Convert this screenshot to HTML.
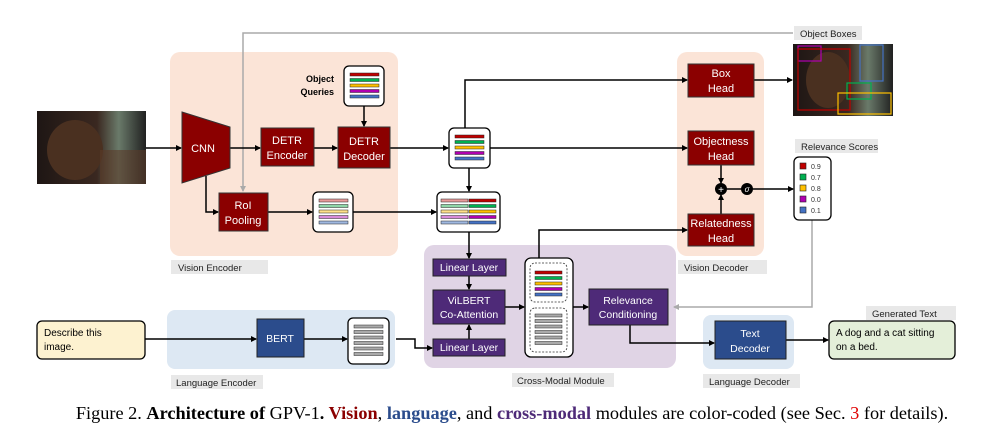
<!DOCTYPE html>
<html><head><meta charset="utf-8"><style>
body{margin:0;background:#fff;width:989px;height:443px;overflow:hidden}
svg text{font-family:"Liberation Sans",sans-serif}
</style></head><body>
<svg width="989" height="443" viewBox="0 0 989 443" xmlns="http://www.w3.org/2000/svg">
<defs>
<marker id="a" markerWidth="6" markerHeight="6" refX="5" refY="3" orient="auto" markerUnits="userSpaceOnUse"><path d="M0,0 L6,3 L0,6z" fill="#000"/></marker>
<marker id="g" markerWidth="6" markerHeight="6" refX="5" refY="3" orient="auto" markerUnits="userSpaceOnUse"><path d="M0,0 L6,3 L0,6z" fill="#aaa"/></marker>
<linearGradient id="ph" x1="0" y1="0" x2="1" y2="0"><stop offset="0" stop-color="#1e1614"/><stop offset="0.55" stop-color="#3a2820"/><stop offset="0.75" stop-color="#6a7a6a"/><stop offset="1" stop-color="#202020"/></linearGradient>
</defs>
<rect x="170" y="52" width="228" height="204" rx="10" fill="#fbe4d7"/>
<rect x="677" y="52" width="87" height="204" rx="10" fill="#fbe4d7"/>
<rect x="424" y="245" width="252" height="123" rx="10" fill="#e0d4e5"/>
<rect x="167" y="310" width="228" height="59" rx="8" fill="#dde8f3"/>
<rect x="703" y="315" width="91" height="54" rx="8" fill="#dde8f3"/>
<g font-size="9.5" fill="#222">
<rect x="171" y="260" width="97" height="14" fill="#e8e8e8"/><text x="178" y="271">Vision Encoder</text>
<rect x="678" y="260" width="89" height="14" fill="#e8e8e8"/><text x="684" y="271">Vision Decoder</text>
<rect x="512" y="373" width="102" height="14" fill="#e8e8e8"/><text x="517" y="384">Cross-Modal Module</text>
<rect x="171" y="375" width="92" height="14" fill="#e8e8e8"/><text x="176" y="386">Language Encoder</text>
<rect x="703" y="374" width="97" height="14" fill="#e8e8e8"/><text x="709" y="385">Language Decoder</text>
<rect x="794" y="26" width="68" height="14" fill="#e8e8e8"/><text x="800" y="37">Object Boxes</text>
<rect x="795" y="139" width="83" height="14" fill="#e8e8e8"/><text x="801" y="150">Relevance Scores</text>
<rect x="866" y="306" width="90" height="14" fill="#e8e8e8"/><text x="872" y="317">Generated Text</text>
</g>
<rect x="37" y="111" width="109" height="73" fill="url(#ph)"/>
<ellipse cx="75" cy="150" rx="28" ry="30" fill="#4a3020"/>
<rect x="100" y="150" width="46" height="34" fill="#5a3a28" opacity="0.6"/>
<rect x="793" y="44" width="100" height="72" fill="url(#ph)"/>
<ellipse cx="828" cy="80" rx="22" ry="28" fill="#4a3020"/>
<rect x="798" y="46" width="23" height="15" fill="none" stroke="#b000b0" stroke-width="1.2"/>
<rect x="798" y="49" width="52" height="61" fill="none" stroke="#c00000" stroke-width="1.2"/>
<rect x="860" y="45" width="23" height="36" fill="none" stroke="#4472c4" stroke-width="1.2"/>
<rect x="847" y="83" width="24" height="16" fill="none" stroke="#00b050" stroke-width="1.2"/>
<rect x="838" y="93" width="53" height="21" fill="none" stroke="#ffc000" stroke-width="1.2"/>
<polyline points="793,33 243,33 243,191" fill="none" stroke="#aaa" stroke-width="1.5" marker-end="url(#g)"/>
<polyline points="812,220 812,307 674,307" fill="none" stroke="#aaa" stroke-width="1.5" marker-end="url(#g)"/>
<g stroke="#000" stroke-width="1.5" fill="none">
<line x1="146" y1="148" x2="181" y2="148" marker-end="url(#a)"/>
<line x1="230" y1="148" x2="260" y2="148" marker-end="url(#a)"/>
<line x1="314" y1="148" x2="337" y2="148" marker-end="url(#a)"/>
<line x1="364" y1="106" x2="364" y2="126" marker-end="url(#a)"/>
<line x1="390" y1="148" x2="448" y2="148" marker-end="url(#a)"/>
<polyline points="206,176 206,212 218,212" marker-end="url(#a)"/>
<line x1="268" y1="212" x2="312" y2="212" marker-end="url(#a)"/>
<line x1="353" y1="212" x2="436" y2="212" marker-end="url(#a)"/>
<line x1="469" y1="168" x2="469" y2="191" marker-end="url(#a)"/>
<polyline points="465,128 465,80 687,80" marker-end="url(#a)"/>
<line x1="490" y1="148" x2="687" y2="148" marker-end="url(#a)"/>
<line x1="469" y1="232" x2="469" y2="258" marker-end="url(#a)"/>
<line x1="469" y1="276" x2="469" y2="289" marker-end="url(#a)"/>
<line x1="469" y1="339" x2="469" y2="325" marker-end="url(#a)"/>
<line x1="754" y1="80" x2="792" y2="80" marker-end="url(#a)"/>
<line x1="721" y1="165" x2="721" y2="183" marker-end="url(#a)"/>
<line x1="721" y1="214" x2="721" y2="195" marker-end="url(#a)"/>
<line x1="727" y1="189" x2="741" y2="189"/>
<line x1="753" y1="189" x2="793" y2="189" marker-end="url(#a)"/>
<polyline points="539,262 539,230 687,230" marker-end="url(#a)"/>
<line x1="505" y1="307" x2="524" y2="307" marker-end="url(#a)"/>
<line x1="573" y1="307" x2="588" y2="307" marker-end="url(#a)"/>
<polyline points="630,325 630,343 714,343" marker-end="url(#a)"/>
<line x1="145" y1="339" x2="256" y2="339" marker-end="url(#a)"/>
<line x1="304" y1="339" x2="347" y2="339" marker-end="url(#a)"/>
<polyline points="396,339 415,339 415,348 432,348" marker-end="url(#a)"/>
<line x1="786" y1="340" x2="828" y2="340" marker-end="url(#a)"/>
</g>
<g fill="#8b0000" stroke="#333" stroke-width="1">
<polygon points="182,112 230,127 230,168 182,183"/>
<rect x="261" y="128" width="53" height="38"/>
<rect x="338" y="127" width="52" height="41"/>
<rect x="219" y="193" width="49" height="38"/>
<rect x="688" y="64" width="66" height="33"/>
<rect x="688" y="131" width="66" height="34"/>
<rect x="688" y="214" width="66" height="32"/>
</g>
<g fill="#fff" font-size="11" text-anchor="middle">
<text x="203" y="152">CNN</text>
<text x="287" y="144">DETR</text><text x="287" y="159">Encoder</text>
<text x="364" y="145">DETR</text><text x="364" y="160">Decoder</text>
<text x="243" y="209">RoI</text><text x="243" y="224">Pooling</text>
<text x="721" y="77">Box</text><text x="721" y="92">Head</text>
<text x="721" y="145">Objectness</text><text x="721" y="160">Head</text>
<text x="721" y="227">Relatedness</text><text x="721" y="242">Head</text>
</g>
<circle cx="721" cy="189" r="6" fill="#000"/><text x="721" y="193" fill="#fff" font-size="10" text-anchor="middle">+</text>
<circle cx="747" cy="189" r="6" fill="#000"/><text x="747" y="192" fill="#fff" font-size="8" font-style="italic" text-anchor="middle">σ</text>
<text x="334" y="82" font-size="9" font-weight="bold" text-anchor="end">Object</text>
<text x="334" y="95" font-size="9" font-weight="bold" text-anchor="end">Queries</text>
<g stroke="#000" stroke-width="1.3" fill="#fff">
<rect x="344" y="66" width="40" height="40" rx="5"/>
<rect x="449" y="128" width="41" height="40" rx="5"/>
<rect x="313" y="192" width="40" height="40" rx="5"/>
<rect x="437" y="192" width="63" height="40" rx="5"/>
<rect x="525" y="258" width="48" height="99" rx="6"/>
<rect x="348" y="318" width="41" height="46" rx="5"/>
</g>
<g stroke="#333" stroke-width="0.8" fill="none" stroke-dasharray="2,1.5">
<rect x="530" y="263" width="37" height="39" rx="5"/>
<rect x="530" y="308" width="37" height="44" rx="5"/>
</g>
<g stroke="#222" stroke-width="0.5">
<rect x="350" y="73" width="29" height="3" fill="#c00000"/><rect x="350" y="78.5" width="29" height="3" fill="#00b050"/><rect x="350" y="84" width="29" height="3" fill="#ffc000"/><rect x="350" y="89.5" width="29" height="3" fill="#b000b0"/><rect x="350" y="95" width="29" height="3" fill="#4472c4"/>
<rect x="455" y="135" width="29" height="3" fill="#c00000"/><rect x="455" y="140.5" width="29" height="3" fill="#00b050"/><rect x="455" y="146" width="29" height="3" fill="#ffc000"/><rect x="455" y="151.5" width="29" height="3" fill="#b000b0"/><rect x="455" y="157" width="29" height="3" fill="#4472c4"/>
<rect x="319" y="199" width="29" height="3" fill="#e89a9a"/><rect x="319" y="204.5" width="29" height="3" fill="#8fd6a8"/><rect x="319" y="210" width="29" height="3" fill="#ffe08a"/><rect x="319" y="215.5" width="29" height="3" fill="#d98ad9"/><rect x="319" y="221" width="29" height="3" fill="#9fb8e0"/>
<rect x="441" y="199" width="27" height="3" fill="#e89a9a"/><rect x="441" y="204.5" width="27" height="3" fill="#8fd6a8"/><rect x="441" y="210" width="27" height="3" fill="#ffe08a"/><rect x="441" y="215.5" width="27" height="3" fill="#d98ad9"/><rect x="441" y="221" width="27" height="3" fill="#9fb8e0"/>
<rect x="469" y="199" width="27" height="3" fill="#c00000"/><rect x="469" y="204.5" width="27" height="3" fill="#00b050"/><rect x="469" y="210" width="27" height="3" fill="#ffc000"/><rect x="469" y="215.5" width="27" height="3" fill="#b000b0"/><rect x="469" y="221" width="27" height="3" fill="#4472c4"/>
<rect x="535" y="271" width="27" height="3" fill="#c00000"/><rect x="535" y="276.5" width="27" height="3" fill="#00b050"/><rect x="535" y="282" width="27" height="3" fill="#ffc000"/><rect x="535" y="287.5" width="27" height="3" fill="#b000b0"/><rect x="535" y="293" width="27" height="3" fill="#4472c4"/>
<g fill="#aaa"><rect x="535" y="314" width="27" height="3"/><rect x="535" y="319.5" width="27" height="3"/><rect x="535" y="325" width="27" height="3"/><rect x="535" y="330.5" width="27" height="3"/><rect x="535" y="336" width="27" height="3"/><rect x="535" y="341.5" width="27" height="3"/>
<rect x="354" y="325" width="29" height="3"/><rect x="354" y="330.5" width="29" height="3"/><rect x="354" y="336" width="29" height="3"/><rect x="354" y="341.5" width="29" height="3"/><rect x="354" y="347" width="29" height="3"/><rect x="354" y="352.5" width="29" height="3"/></g>
</g>
<rect x="794" y="157" width="37" height="63" rx="5" fill="#fff" stroke="#000" stroke-width="1.3"/>
<g stroke="#222" stroke-width="0.6">
<rect x="800" y="163" width="6" height="6" fill="#c00000"/><rect x="800" y="174" width="6" height="6" fill="#00b050"/><rect x="800" y="185" width="6" height="6" fill="#ffc000"/><rect x="800" y="196" width="6" height="6" fill="#b000b0"/><rect x="800" y="207" width="6" height="6" fill="#4472c4"/>
</g>
<g font-size="7" fill="#333"><text x="811" y="169">0.9</text><text x="811" y="180">0.7</text><text x="811" y="191">0.8</text><text x="811" y="202">0.0</text><text x="811" y="213">0.1</text></g>
<g fill="#4e2a78" stroke="#222" stroke-width="1">
<rect x="433" y="259" width="73" height="17"/>
<rect x="433" y="290" width="72" height="34"/>
<rect x="433" y="339" width="72" height="17"/>
<rect x="589" y="289" width="79" height="36"/>
</g>
<g fill="#fff" font-size="10.5" text-anchor="middle">
<text x="469" y="271">Linear Layer</text>
<text x="469" y="304">ViLBERT</text><text x="469" y="318">Co-Attention</text>
<text x="469" y="351">Linear Layer</text>
<text x="628" y="304">Relevance</text><text x="628" y="318">Conditioning</text>
</g>
<rect x="257" y="319" width="47" height="38" fill="#2b4c8c" stroke="#222"/>
<text x="280" y="342" fill="#fff" font-size="10.5" text-anchor="middle">BERT</text>
<rect x="715" y="321" width="71" height="38" fill="#2b4c8c" stroke="#222"/>
<text x="750" y="337" fill="#fff" font-size="10.5" text-anchor="middle">Text</text>
<text x="750" y="352" fill="#fff" font-size="10.5" text-anchor="middle">Decoder</text>
<rect x="37" y="321" width="108" height="38" rx="5" fill="#fdf2d0" stroke="#000" stroke-width="1.3"/>
<text x="44" y="336" font-size="10">Describe this</text><text x="44" y="350" font-size="10">image.</text>
<rect x="829" y="321" width="126" height="38" rx="5" fill="#e4efd9" stroke="#000" stroke-width="1.3"/>
<text x="836" y="336" font-size="10">A dog and a cat sitting</text><text x="836" y="350" font-size="10">on a bed.</text>
<text x="512" y="419" font-size="18.3" text-anchor="middle" style="font-family:'Liberation Serif',serif">Figure 2.  <tspan font-weight="bold">Architecture of</tspan> GPV-1<tspan font-weight="bold">. </tspan><tspan font-weight="bold" fill="#8b0000">Vision</tspan>, <tspan font-weight="bold" fill="#2b4c8c">language</tspan>, and <tspan font-weight="bold" fill="#4e2a78">cross-modal</tspan> modules are color-coded (see Sec. <tspan fill="#e00000">3</tspan> for details).</text>
</svg>
</body></html>
